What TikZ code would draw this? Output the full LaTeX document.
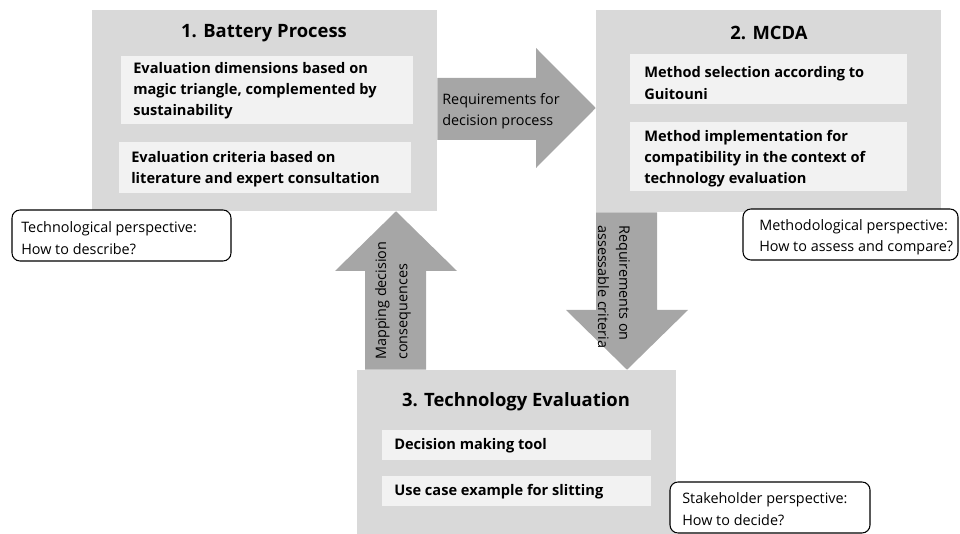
\documentclass[tikz,border=0pt]{standalone}
\usepackage{fontspec}
\setmainfont{Open Sans}
\usetikzlibrary{fit}
\definecolor{panel}{HTML}{D9D9D9}
\definecolor{item}{HTML}{F2F2F2}
\definecolor{flow}{HTML}{A6A6A6}
\begin{document}
\begin{tikzpicture}[x=0.75pt,y=-0.75pt,
  panelbox/.style={fill=panel,draw=none,inner sep=0pt},
  itembox/.style={fill=item,draw=none,inner sep=0pt},
  noteBox/.style={draw=black,line width=0.8pt,rounded corners=6pt,fill=white,inner sep=0pt},
  flowshape/.style={fill=flow,draw=none},
  titletext/.style={font=\fontsize{13.8}{17}\selectfont\bfseries,inner sep=0pt},
  itemtext/.style={font=\fontsize{10.95}{15.8}\selectfont\bfseries,align=left,anchor=west,inner sep=0pt},
  plaintext/.style={font=\fontsize{10.8}{16}\selectfont,align=left,inner sep=0pt}]
\useasboundingbox (0,0) rectangle (960,534);

% panel 1: battery process
\node[panelbox,fit={(92,10) (437,211)}] (p1) {};
\node[titletext] (t1) at (264,33) {1. Battery Process};
\node[itembox,fit={(121,56) (413,124)}] (p1a) {};
\node[itemtext] (p1atext) at (133,91) {Evaluation dimensions based on\\magic triangle, complemented by\\sustainability};
\node[itembox,fit={(119,142) (411,193)}] (p1b) {};
\node[itemtext] (p1btext) at (131,169) {Evaluation criteria based on\\literature and expert consultation};

% panel 2: MCDA
\node[panelbox,fit={(596,10) (941,212)}] (p2) {};
\node[titletext] (t2) at (769,33) {2. MCDA};
\node[itembox,fit={(630,54) (907,104)}] (p2a) {};
\node[itemtext] (p2atext) at (644,83) {Method selection according to\\Guitouni};
\node[itembox,fit={(630,122) (907,191)}] (p2b) {};
\node[itemtext] (p2btext) at (644,159) {Method implementation for\\compatibility in the context of\\technology evaluation};

% panel 3: technology evaluation
\node[panelbox,fit={(357,370) (676,534)}] (p3) {};
\node[titletext] (t3) at (516,402) {3. Technology Evaluation};
\node[itembox,fit={(382,430) (651,460)}] (p3a) {};
\node[itemtext] (p3atext) at (394,446) {Decision making tool};
\node[itembox,fit={(382,476) (651,506)}] (p3b) {};
\node[itemtext] (p3btext) at (394,492) {Use case example for slitting};

% block arrows between the panels
\fill[flowshape] (p1.east |- 0,78) -- (536,78) -- (536,48) -- (p2.west |- 0,108)
  -- (536,168) -- (536,140) -- (p1.east |- 0,140) -- cycle;
\node[plaintext,anchor=west] (a12) at (442,111) {Requirements for\\decision process};

\fill[flowshape] (596,0 |- p2.south) -- (657,0 |- p2.south) -- (657,310) -- (688,310)
  -- (627,0 |- p3.north) -- (566,310) -- (596,310) -- cycle;
\node[plaintext,rotate=-90,anchor=west] (a23) at (614,225) {Requirements on\\assessable criteria};

\fill[flowshape] (365,0 |- p3.north) -- (426,0 |- p3.north) -- (426,271) -- (457,271)
  -- (396,0 |- p1.south) -- (335,271) -- (365,271) -- cycle;
\node[plaintext,rotate=90,anchor=west] (a31) at (393,360) {Mapping decision\\consequences};

% perspective notes
\node[noteBox,fit={(12,210) (231,261)}] (n1) {};
\node[plaintext,anchor=west] (n1text) at (21,238) {Technological perspective:\\How to describe?};
\node[noteBox,fit={(743,209) (958,260)}] (n2) {};
\node[plaintext,anchor=west] (n2text) at (759,237) {Methodological perspective:\\How to assess and compare?};
\node[noteBox,fit={(670,482) (870,533)}] (n3) {};
\node[plaintext,anchor=west] (n3text) at (682,509) {Stakeholder perspective:\\How to decide?};
\end{tikzpicture}
\end{document}
